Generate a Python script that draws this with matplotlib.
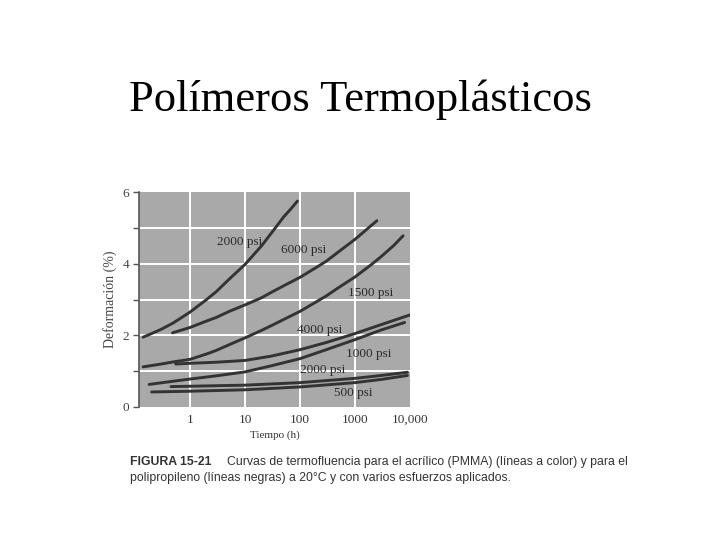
import numpy as np
import matplotlib
matplotlib.use('Agg')
from matplotlib import pyplot as plt

# PMMA curves (hours, % deformation)
t_pmma_2000 = [0.14, 0.2, 0.3, 0.5, 1, 2, 3, 5, 10, 20, 30, 50, 70, 90]
d_pmma_2000 = [1.95, 2.05, 2.17, 2.35, 2.65, 3.0, 3.22, 3.55, 3.98, 4.5, 4.85, 5.3, 5.55, 5.75]
t_pmma_6000 = [0.48, 1, 2, 3, 5, 10, 20, 30, 50, 100, 200, 300, 500, 1000, 2500]
d_pmma_6000 = [2.07, 2.22, 2.4, 2.5, 2.66, 2.85, 3.05, 3.2, 3.38, 3.62, 3.9, 4.07, 4.33, 4.68, 5.2]
t_pmma_1500 = [0.14, 0.3, 0.5, 1, 2, 3, 5, 10, 20, 30, 50, 100, 200, 300, 500, 1000, 2000, 3000, 5000, 7500]
d_pmma_1500 = [1.12, 1.2, 1.26, 1.33, 1.48, 1.58, 1.73, 1.93, 2.14, 2.27, 2.44, 2.67, 2.94, 3.1, 3.33, 3.63, 3.98, 4.2, 4.5, 4.78]
t_pmma_4000 = [0.55, 1, 3, 10, 30, 100, 300, 1000, 3000, 10000]
d_pmma_4000 = [1.2, 1.22, 1.25, 1.3, 1.42, 1.6, 1.8, 2.05, 2.3, 2.57]
t_pmma_1000 = [0.18, 0.5, 1, 3, 10, 30, 100, 300, 1000, 3000, 8000]
d_pmma_1000 = [0.63, 0.72, 0.78, 0.87, 0.98, 1.15, 1.35, 1.6, 1.88, 2.15, 2.36]
# polypropylene curves
t_pp_2000 = [0.45, 1, 10, 100, 1000, 3000, 9000]
d_pp_2000 = [0.57, 0.58, 0.61, 0.68, 0.8, 0.88, 0.97]
t_pp_500 = [0.2, 1, 10, 100, 1000, 3000, 9000]
d_pp_500 = [0.42, 0.44, 0.48, 0.56, 0.68, 0.77, 0.88]

labels = ['2000 psi', '6000 psi', '1500 psi', '4000 psi', '1000 psi', '2000 psi', '500 psi']
label_t = [8.1, 118, 1940, 230, 1800, 260, 930]
label_d = [4.61, 4.38, 3.17, 2.14, 1.47, 1.03, 0.40]

xticks = [1, 10, 100, 1000, 10000]
xticklabels = ['1', '10', '100', '1000', '10,000']

fig = plt.figure(figsize=(7.2, 5.4), dpi=100)
fig.patch.set_facecolor('white')

fig.text(0.5, 0.815, 'Polímeros Termoplásticos', ha='center', va='center',
         fontsize=32, family='Liberation Serif', color='black')

ax = fig.add_axes([0.1936, 0.2463, 0.3758, 0.398])
ax.set_facecolor('#a9a9a9')
ax.set_xscale('log')
ax.set_xlim(0.12, 10000)
ax.set_ylim(0, 6)

for v in [1, 2, 3, 4, 5]:
    ax.axhline(v, color='white', lw=1.4, zorder=1)
for v in [1, 10, 100, 1000]:
    ax.axvline(v, color='white', lw=1.4, zorder=1)

curves = [(t_pmma_2000, d_pmma_2000), (t_pmma_6000, d_pmma_6000),
          (t_pmma_1500, d_pmma_1500), (t_pmma_4000, d_pmma_4000),
          (t_pmma_1000, d_pmma_1000), (t_pp_2000, d_pp_2000),
          (t_pp_500, d_pp_500)]
for t, d in curves:
    ax.plot(t, d, color='#333333', lw=2.1, zorder=3,
            solid_capstyle='round', solid_joinstyle='round')

for s, x, y in zip(labels, label_t, label_d):
    ax.text(x, y, s, ha='center', va='center', fontsize=9.5,
            family='Liberation Serif', color='#2a2a2a', zorder=4)

for sp in ['top', 'right', 'bottom']:
    ax.spines[sp].set_visible(False)
ax.spines['left'].set_color('#555555')
ax.spines['left'].set_linewidth(1.2)

ax.set_xticks(xticks)
ax.set_xticklabels(xticklabels, family='Liberation Serif', fontsize=9.5, color='#333333')
ax.xaxis.set_minor_locator(matplotlib.ticker.NullLocator())
ax.set_yticks([0, 1, 2, 3, 4, 5, 6])
ax.set_yticklabels(['0', '', '2', '', '4', '', '6'], family='Liberation Serif',
                   fontsize=9.5, color='#444444')
ax.tick_params(axis='both', direction='out', length=4, color='#555555', width=1)
ax.tick_params(axis='x', length=0, pad=5)

ax.set_xlabel('Tiempo (h)', family='Liberation Serif', fontsize=8, color='#333333', labelpad=3)
ax.set_ylabel('Deformación (%)', family='Liberation Serif', fontsize=10, color='#444444', labelpad=4)

fig.text(0.181, 0.145, 'FIGURA 15-21', fontsize=8.8, family='Liberation Sans',
         weight='bold', color='#333333', va='center')
fig.text(0.315, 0.145, 'Curvas de termofluencia para el acrílico (PMMA) (líneas a color) y para el',
         fontsize=8.8, family='Liberation Sans', color='#333333', va='center')
fig.text(0.181, 0.115, 'polipropileno (líneas negras) a 20°C y con varios esfuerzos aplicados.',
         fontsize=8.8, family='Liberation Sans', color='#333333', va='center')

fig.savefig('out.png', dpi=100)
